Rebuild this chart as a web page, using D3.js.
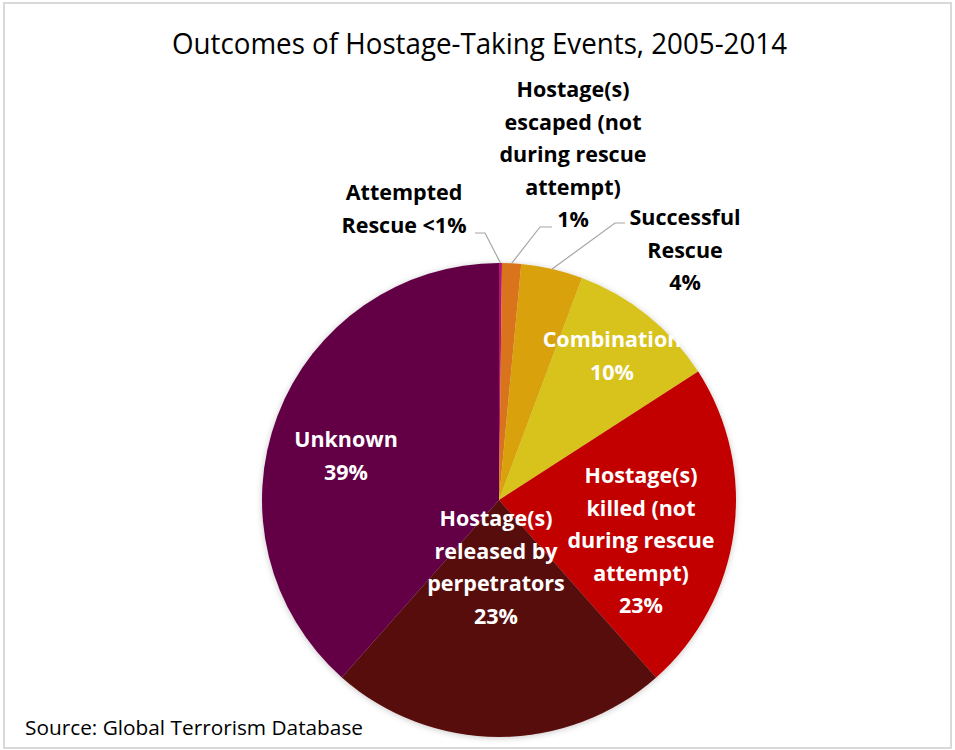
<!DOCTYPE html>
<html>
<head>
<meta charset="utf-8">
<script src="https://cdn.jsdelivr.net/npm/d3@7"></script>
<style>
  html, body { margin: 0; padding: 0; background: #fff; }
  svg { display: block; }
</style>
</head>
<body>
<div id="chart"></div>
<script>
// Outcomes of hostage-taking events, share of events (%), clockwise from 12 o'clock
const categories = [
  "Attempted Rescue",
  "Hostage(s) escaped (not during rescue attempt)",
  "Successful Rescue",
  "Combination",
  "Hostage(s) killed (not during rescue attempt)",
  "Hostage(s) released by perpetrators",
  "Unknown"
];
const shares = [0.2, 1.3, 4.2, 10.2, 22.6, 23.1, 38.5];

// Label text broken into lines; {p} is replaced by the formatted share
const labelLines = [
  ["Attempted", "Rescue {p}"],
  ["Hostage(s)", "escaped (not", "during rescue", "attempt)", "{p}"],
  ["Successful", "Rescue", "{p}"],
  ["Combination", "{p}"],
  ["Hostage(s)", "killed (not", "during rescue", "attempt)", "{p}"],
  ["Hostage(s)", "released by", "perpetrators", "{p}"],
  ["Unknown", "{p}"]
];

const sliceColors = ["#b3146e", "#d9731f", "#d9a20f", "#d8c31a", "#c20000", "#580909", "#630445"];

const W = 955, H = 750;
const cx = 499, cy = 500, R = 237;
const lineH = 32.5;

// Label placement relative to the pie centre (first baseline, centre x),
// plus leader-line elbow and end for labels outside the pie
const labelLayout = [
  { dx: -95, dy: -300, color: "#000", leader: { elbow: [-14, -267], end: [-24, -267] } },
  { dx: 74, dy: -403, color: "#000", leader: { elbow: [41, -273], end: [53, -273] } },
  { dx: 186, dy: -275, color: "#000", leader: { elbow: [116, -277], end: [126, -277] } },
  { dx: 113, dy: -153, color: "#fff" },
  { dx: 142, dy: -17, color: "#fff" },
  { dx: -3, dy: 26, color: "#fff" },
  { dx: -153, dy: -53, color: "#fff" }
];

const fmtShare = v => v < 1 ? "<1%" : Math.round(v) + "%";

const data = categories.map((c, i) => ({ name: c, value: shares[i], i }));

const svg = d3.select("#chart").append("svg")
  .attr("width", W).attr("height", H);

const defs = svg.append("defs");
const shadow = defs.append("filter").attr("id", "pieShadow")
  .attr("x", "-10%").attr("y", "-10%").attr("width", "120%").attr("height", "120%");
shadow.append("feDropShadow")
  .attr("dx", 0).attr("dy", 1).attr("stdDeviation", 3)
  .attr("flood-color", "#000").attr("flood-opacity", 0.22);

// Chart frame
svg.append("rect")
  .attr("x", 4).attr("y", 3).attr("width", 947).attr("height", 745)
  .attr("fill", "#fff").attr("stroke", "#d9d9d9").attr("stroke-width", 2);

// Title
svg.append("text")
  .attr("x", 479.5).attr("y", 54)
  .attr("text-anchor", "middle")
  .attr("font-family", "'Open Sans', 'Noto Sans', sans-serif")
  .attr("font-size", 29)
  .attr("textLength", 615).attr("lengthAdjust", "spacingAndGlyphs")
  .attr("fill", "#000")
  .text("Outcomes of Hostage-Taking Events, 2005-2014");

const pie = d3.pie().value(d => d.value).sort(null);
const arcs = pie(data);
const arc = d3.arc().innerRadius(0).outerRadius(R);
const rimArc = d3.arc().innerRadius(R).outerRadius(R);

const g = svg.append("g").attr("transform", `translate(${cx},${cy})`);

g.append("g").attr("filter", "url(#pieShadow)")
  .selectAll("path")
  .data(arcs)
  .join("path")
  .attr("d", arc)
  .attr("fill", d => sliceColors[d.data.i]);

// Leader lines for small slices
const leaders = arcs.filter(d => labelLayout[d.data.i].leader);
g.append("g").selectAll("polyline")
  .data(leaders)
  .join("polyline")
  .attr("points", d => {
    const L = labelLayout[d.data.i].leader;
    const p0 = rimArc.centroid(d);
    return [p0, L.elbow, L.end].map(p => p.join(",")).join(" ");
  })
  .attr("fill", "none")
  .attr("stroke", "#a6a6a6")
  .attr("stroke-width", 1.2);

// Data labels
const labels = g.append("g")
  .attr("font-family", "'Open Sans', 'Noto Sans', sans-serif")
  .attr("font-weight", "bold")
  .attr("font-size", 21.5)
  .attr("text-anchor", "middle");

arcs.forEach(d => {
  const lay = labelLayout[d.data.i];
  const lines = labelLines[d.data.i].map(s => s.replace("{p}", fmtShare(d.data.value)));
  const t = labels.append("text").attr("fill", lay.color);
  lines.forEach((s, k) => {
    t.append("tspan")
      .attr("x", lay.dx)
      .attr("y", lay.dy + k * lineH)
      .text(s);
  });
});

// Source note
svg.append("text")
  .attr("x", 25).attr("y", 735)
  .attr("font-family", "'Open Sans', 'Noto Sans', sans-serif")
  .attr("font-size", 20)
  .attr("textLength", 338).attr("lengthAdjust", "spacingAndGlyphs")
  .attr("fill", "#000")
  .text("Source: Global Terrorism Database");
</script>
</body>
</html>
